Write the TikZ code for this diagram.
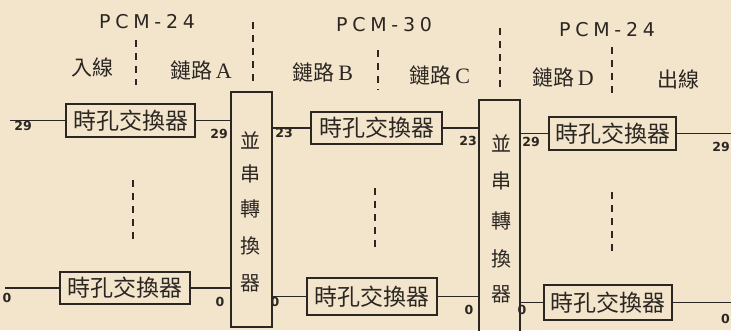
\documentclass[tikz,border=0pt]{standalone}
\usepackage{fontspec}
\setmainfont{Liberation Serif}
\newfontfamily\cjk{Noto Sans CJK TC}
\newfontfamily\pcmfont[LetterSpace=25]{DejaVu Sans}
\newfontfamily\numfont{DejaVu Sans}
\definecolor{bg}{HTML}{F2E5CB}
\definecolor{ink}{HTML}{2B2622}
\begin{document}
\begin{tikzpicture}[x=1pt,y=-1pt,
  wire/.style={draw=ink,line width=1.7pt},
  tsi/.style={draw=ink,line width=1.7pt,inner sep=0pt,text=ink,
    font=\cjk\fontsize{23}{23}\selectfont},
  psbox/.style={draw=ink,line width=1.7pt,inner sep=0pt,minimum width=41pt},
  pschar/.style={text=ink,inner sep=0pt,font=\cjk\fontsize{20}{20}\selectfont},
  sep/.style={draw=ink,line width=1.7pt,dash pattern=on 7pt off 6pt},
  pcm/.style={text=ink,inner sep=0pt,font=\pcmfont\fontsize{19}{19}\selectfont},
  lab/.style={text=ink,inner sep=0pt,font=\cjk\fontsize{21}{21}\selectfont},
  num/.style={text=ink,inner sep=0pt,font=\numfont\bfseries\fontsize{12.5}{12.5}\selectfont}]
\fill[bg] (0,0) rectangle (731,330);
\useasboundingbox (0,0) rectangle (731,330);

% headings
\node[pcm] (p1) at (147,22) {PCM-24};
\node[pcm] (p2) at (384,25) {PCM-30};
\node[pcm] (p3) at (607,30) {PCM-24};
\node[lab] (l0) at (92,68) {入線};
\node[lab] (l1) at (201,70) {鏈路\,{\rmfamily\fontsize{22}{22}\selectfont A}};
\node[lab] (l2) at (323,72) {鏈路\,{\rmfamily\fontsize{22}{22}\selectfont B}};
\node[lab] (l3) at (440,75) {鏈路\,{\rmfamily\fontsize{22}{22}\selectfont C}};
\node[lab] (l4) at (563,77) {鏈路\,{\rmfamily\fontsize{22}{22}\selectfont D}};
\node[lab] (l5) at (678,80) {出線};

% dashed separators
\draw[sep] (136,40) -- (136,85);
\draw[sep] (253,22) -- (253,83);
\draw[sep] (378,50) -- (378,90);
\draw[sep] (500,28) -- (500,90);
\draw[sep] (612,47) -- (612,97);
\draw[sep] (133,180) -- (133,245);
\draw[sep] (375,188) -- (375,252);
\draw[sep] (612,192) -- (612,255);

% switches
\node[tsi,minimum width=129pt,minimum height=33pt] (b1) at (130.5,120.5) {時孔交換器};
\node[tsi,minimum width=131pt,minimum height=32pt] (b2) at (376.5,128) {時孔交換器};
\node[tsi,minimum width=127pt,minimum height=33pt] (b3) at (612.5,133.5) {時孔交換器};
\node[tsi,minimum width=130pt,minimum height=32pt] (b4) at (125,288) {時孔交換器};
\node[tsi,minimum width=130pt,minimum height=37pt] (b5) at (372,296.5) {時孔交換器};
\node[tsi,minimum width=128pt,minimum height=35pt] (b6) at (608,302.5) {時孔交換器};

% parallel/serial converters
\node[psbox,minimum height=235pt] (ps1) at (251.5,209.5) {};
\node[psbox,minimum height=240pt] (ps2) at (499.5,220) {};
\foreach \c/\y [count=\i] in {並/140,串/174,轉/209,換/246,器/283}
  \node[pschar] (pa\i) at (250,\y) {\c};
\foreach \c/\y [count=\i] in {並/143,串/181,轉/221,換/259,器/294}
  \node[pschar] (pb\i) at (501,\y) {\c};

% free ends
\coordinate (inA) at (10,0);
\coordinate (inB) at (5,0);
\coordinate (outR) at (731,0);

% top row connectors
\draw[wire] (b1.west -| inA) -- (b1.west);
\draw[wire] (b1.east) -- (b1.east -| ps1.west);
\draw[wire] (b2.west -| ps1.east) -- (b2.west);
\draw[wire] (b2.east) -- (b2.east -| ps2.west);
\draw[wire] (b3.west -| ps2.east) -- (b3.west);
\draw[wire] (b3.east) -- (b3.east -| outR);
% bottom row connectors
\draw[wire] (b4.west -| inB) -- (b4.west);
\draw[wire] (b4.east) -- (b4.east -| ps1.west);
\draw[wire] (b5.west -| ps1.east) -- (b5.west);
\draw[wire] (b5.east) -- (b5.east -| ps2.west);
\draw[wire] (b6.west -| ps2.east) -- (b6.west);
\draw[wire] (b6.east) -- (b6.east -| outR);

% channel numbers
\node[num] (n1) at (23,126) {29};
\node[num] (n2) at (219,134) {29};
\node[num] (n3) at (284,133) {23};
\node[num] (n4) at (468,141) {23};
\node[num] (n5) at (531,142) {29};
\node[num,anchor=east] (n6) at (730,147) {29};
\node[num] (m1) at (7,298) {0};
\node[num] (m2) at (220,302) {0};
\node[num] (m3) at (275,302) {0};
\node[num] (m4) at (469,310) {0};
\node[num] (m5) at (522,310) {0};
\node[num,anchor=east] (m6) at (730,319) {0};
\end{tikzpicture}
\end{document}
